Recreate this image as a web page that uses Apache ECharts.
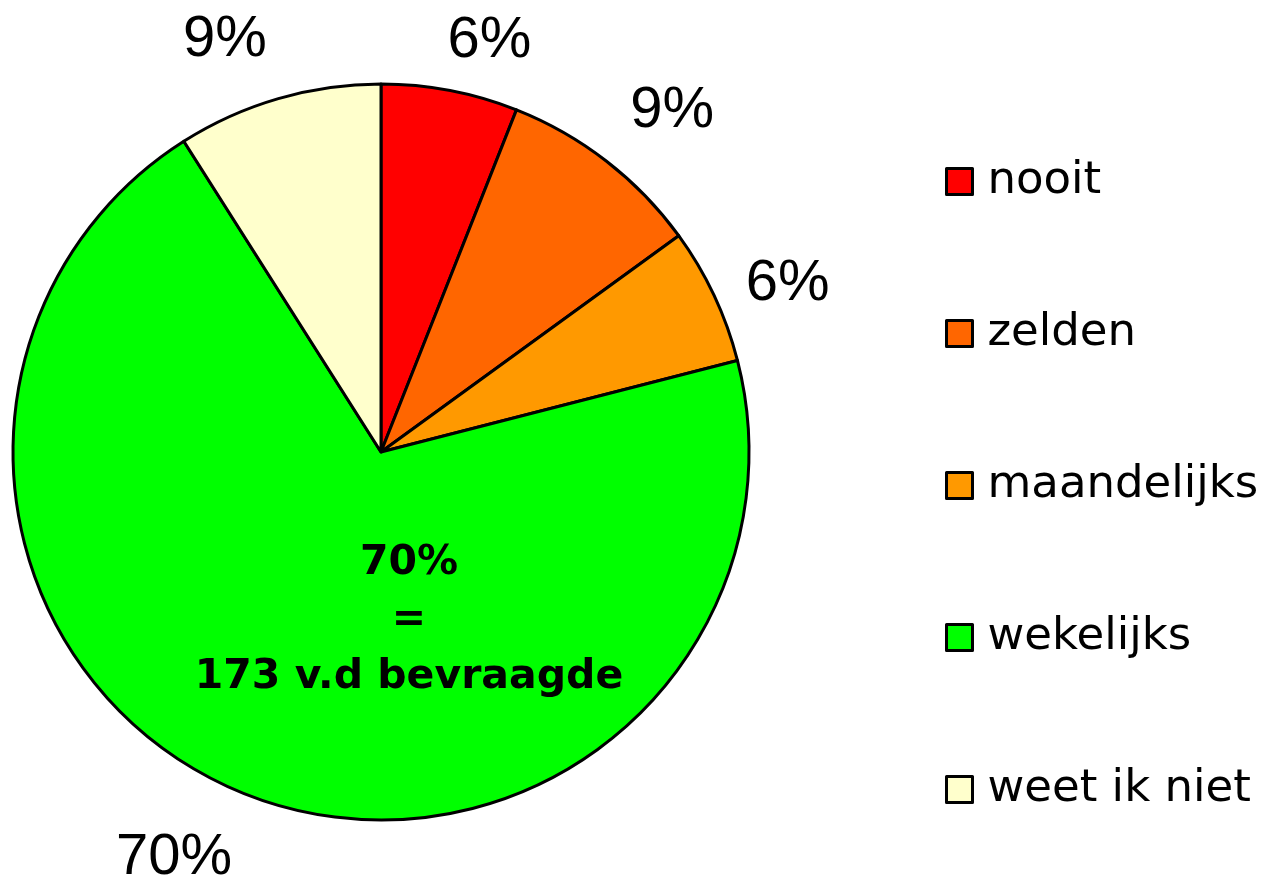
<!DOCTYPE html>
<html>
<head>
  <meta charset="utf-8">
  <title>Pie chart</title>
  <script src="https://cdn.jsdelivr.net/npm/echarts@6/dist/echarts.min.js"></script>
  <style>
    html, body { margin: 0; padding: 0; background: #fff; }
  </style>
</head>
<body>
  <div id="chart" style="width: 1272px; height: 879px;"></div>

  <script>
    // data
    const categories = ['nooit', 'zelden', 'maandelijks', 'wekelijks', 'weet ik niet'];
    const percentages = [6, 9, 6, 70, 9];
    const colors = ['#FF0000', '#FF6600', '#FF9900', '#00FF00', '#FFFFCC'];
    const weeklyCount = 173;

    // small nudges so the percent labels sit where the original ones do
    const labelNudge = [[-16, -5], [-9, -15], [-14, 8], [8, 22], [6, -15]];

    const chart = echarts.init(document.getElementById('chart'));

    chart.setOption({
      animation: false,
      legend: {
        orient: 'vertical',
        left: 940,
        top: 151,
        icon: 'rect',
        itemWidth: 26,
        itemHeight: 26,
        itemGap: 101,
        itemStyle: { borderColor: '#000', borderWidth: 3 },
        textStyle: {
          fontFamily: 'DejaVu Sans',
          fontSize: 45,
          lineHeight: 51,
          color: '#000',
          padding: [0, 0, 0, 10]
        },
        data: categories
      },
      series: [
        {
          type: 'pie',
          center: [381, 452],
          radius: 368,
          startAngle: 90,
          clockwise: true,
          avoidLabelOverlap: false,
          itemStyle: { borderColor: '#000', borderWidth: 3 },
          label: {
            show: true,
            position: 'outside',
            fontFamily: 'Liberation Sans',
            fontSize: 58,
            color: '#000',
            formatter: (p) => p.value + '%'
          },
          labelLine: { show: false, length: 45, length2: 0 },
          labelLayout: (params) => ({
            dx: labelNudge[params.dataIndex][0],
            dy: labelNudge[params.dataIndex][1]
          }),
          emphasis: { disabled: true },
          data: categories.map((c, i) => ({
            name: c,
            value: percentages[i],
            itemStyle: { color: colors[i] }
          }))
        }
      ],
      graphic: [
        {
          type: 'text',
          z: 100,
          x: 409,
          y: 620,
          style: {
            text: percentages[3] + '%\n=\n' + weeklyCount + ' v.d bevraagde',
            align: 'center',
            verticalAlign: 'middle',
            fontFamily: 'DejaVu Sans',
            fontWeight: 'bold',
            fontSize: 41,
            lineHeight: 57,
            fill: '#000'
          }
        }
      ]
    });
  </script>
</body>
</html>
